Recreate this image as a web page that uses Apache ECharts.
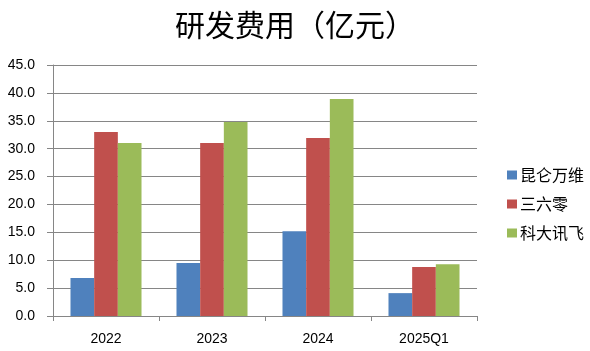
<!DOCTYPE html>
<html lang="zh">
<head>
    <meta charset="UTF-8">
    <title>研发费用</title>
    <script src="https://cdn.jsdelivr.net/npm/echarts@6/dist/echarts.min.js"></script>
    <style>
        html, body { margin: 0; padding: 0; background: #fff; }
    </style>
</head>
<body>
    <div id="main" style="width: 590px;height:351px;"></div>

    <script type="text/javascript">
        // 数据
        var categories = ['2022', '2023', '2024', '2025Q1'];
        var kunlun = [6.8, 9.5, 15.2, 4.1];     // 昆仑万维
        var qihoo = [33.0, 31.0, 31.9, 8.8];    // 三六零
        var iflytek = [31.0, 34.8, 38.9, 9.3];  // 科大讯飞
        var seriesNames = ['昆仑万维', '三六零', '科大讯飞'];

        var myChart = echarts.init(document.getElementById('main'));

        var numFont = 'Liberation Sans, Arial, sans-serif';
        var cjkFont = 'Noto Sans CJK SC, sans-serif';

        var option = {
            animation: false,
            color: ['#4F81BD', '#C0504D', '#9BBB59'],
            title: {
                text: '研发费用（亿元）',
                left: 'center',
                top: 5,
                textStyle: { fontFamily: cjkFont, fontSize: 30, fontWeight: 'normal', color: '#000' }
            },
            legend: {
                orient: 'vertical',
                left: 502,
                top: 162,
                itemWidth: 10,
                itemHeight: 9,
                itemGap: 13,
                icon: 'rect',
                textStyle: { fontFamily: cjkFont, fontSize: 16, color: '#000', padding: [0, 0, 0, -2] },
                data: seriesNames
            },
            grid: { left: 53, right: 113, top: 65, bottom: 35 },
            xAxis: {
                type: 'category',
                data: categories,
                axisLine: { lineStyle: { color: '#868686' } },
                axisTick: { show: true, length: 5, lineStyle: { color: '#868686' } },
                axisLabel: { color: '#000', fontSize: 14, fontFamily: numFont, margin: 16 }
            },
            yAxis: {
                type: 'value',
                min: 0,
                max: 45,
                interval: 5,
                axisLine: { show: true, lineStyle: { color: '#868686' } },
                axisTick: { show: true, length: 6, lineStyle: { color: '#868686' } },
                splitLine: { lineStyle: { color: '#868686' } },
                axisLabel: {
                    color: '#000', fontSize: 14, fontFamily: numFont, margin: 18,
                    formatter: function (v) { return v.toFixed(1); }
                }
            },
            series: [
                { name: seriesNames[0], type: 'bar', data: kunlun, barGap: '0%', barCategoryGap: '33%' },
                { name: seriesNames[1], type: 'bar', data: qihoo, barGap: '0%', barCategoryGap: '33%' },
                { name: seriesNames[2], type: 'bar', data: iflytek, barGap: '0%', barCategoryGap: '33%' }
            ]
        };

        myChart.setOption(option);
    </script>
</body>
</html>
